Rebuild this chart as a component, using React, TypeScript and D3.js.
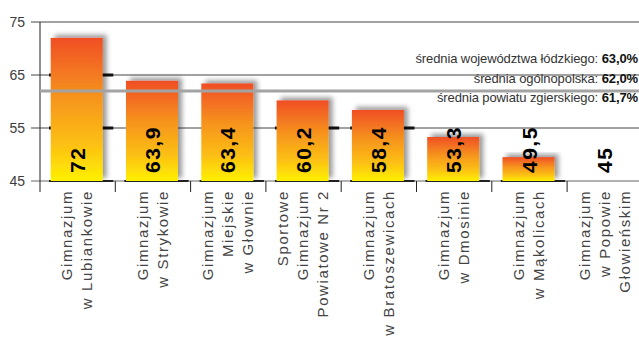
import React from "react";
import * as d3 from "d3";

const categories: string[][] = [
  ["Gimnazjum", "w Lubiankowie"],
  ["Gimnazjum", "w Strykowie"],
  ["Gimnazjum", "Miejskie", "w Głownie"],
  ["Sportowe", "Gimnazjum", "Powiatowe Nr 2"],
  ["Gimnazjum", "w Bratoszewicach"],
  ["Gimnazjum", "w Dmosinie"],
  ["Gimnazjum", "w Mąkolicach"],
  ["Gimnazjum", "w Popowie", "Głowieńskim"],
];
const values: number[] = [72, 63.9, 63.4, 60.2, 58.4, 53.3, 49.5, 45];
const valueLabels: string[] = ["72", "63,9", "63,4", "60,2", "58,4", "53,3", "49,5", "45"];
const yTicks: number[] = [45, 55, 65, 75];
const floorMarks: [number, number][] = [
  [0, 65], [0, 55], [3, 55], [4, 55],
];
const averages = [
  { label: "średnia województwa łódzkiego: ", value: "63,0%" },
  { label: "średnia ogólnopolska: ", value: "62,0%" },
  { label: "średnia powiatu zgierskiego: ", value: "61,7%" },
];
const avgLineValue = 62.0;

const W = 639;
const H = 341;
const FONT = "'Liberation Sans', Arial, Helvetica, sans-serif";

export default function App() {
  const y = d3.scaleLinear().domain([45, 75]).range([181, 22]);
  const x = d3
    .scaleBand<number>()
    .domain(d3.range(categories.length))
    .range([39.5, 39.5 + 75.3 * categories.length])
    .paddingInner(0)
    .paddingOuter(0);
  const bw = x.bandwidth();
  const barOff = 11.2;
  const barW = 52;

  return (
    <svg
      width={W}
      height={H}
      style={{ position: "absolute", left: 0, top: 0, background: "#fff" }}
      fontFamily={FONT}
    >
      <defs>
        <linearGradient id="barGrad" x1="0" y1="0" x2="0" y2="1">
          <stop offset="0%" stopColor="#f04e25" />
          <stop offset="40%" stopColor="#f6921e" />
          <stop offset="75%" stopColor="#fcc113" />
          <stop offset="100%" stopColor="#fff100" />
        </linearGradient>
        <filter id="shadow" x="-20%" y="-20%" width="150%" height="140%">
          <feGaussianBlur in="SourceAlpha" stdDeviation="2.4" result="b" />
          <feOffset in="b" dx="4" dy="-3" result="o" />
          <feComponentTransfer in="o" result="s">
            <feFuncA type="linear" slope="0.4" />
          </feComponentTransfer>
          <feMerge>
            <feMergeNode in="s" />
            <feMergeNode in="SourceGraphic" />
          </feMerge>
        </filter>
      </defs>

      {/* gridlines */}
      {yTicks.map((t) => (
        <g key={t}>
          <line
            x1={31}
            x2={W}
            y1={y(t)}
            y2={y(t)}
            stroke={t === 45 ? "#666" : "#444"}
            strokeWidth={1}
          />
          <text
            x={25}
            y={y(t)}
            dy="0.36em"
            textAnchor="end"
            fontSize={14}
            fill="#3c3c3c"
          >
            {t}
          </text>
        </g>
      ))}

      {/* floor segments */}
      {values.slice(0, 7).map((_, i) => (
        <line
          key={"f" + i}
          x1={(x(i) as number) + 9.5}
          x2={(x(i) as number) + bw - 1.5}
          y1={y(45)}
          y2={y(45)}
          stroke="#222"
          strokeWidth={2}
        />
      ))}
      {floorMarks.map(([i, lv], k) => (
        <line
          key={"fm" + k}
          x1={(x(i) as number) + 9.5}
          x2={(x(i) as number) + bw - 1.5}
          y1={y(lv)}
          y2={y(lv)}
          stroke="#111"
          strokeWidth={3}
        />
      ))}

      {/* bars */}
      {values.map((v, i) =>
        v > 45 ? (
          <rect
            key={"b" + i}
            x={(x(i) as number) + barOff}
            y={y(v)}
            width={barW}
            height={y(45) - y(v)}
            fill="url(#barGrad)"
            filter="url(#shadow)"
          />
        ) : null
      )}

      {/* axis */}
      <line x1={40} x2={40} y1={22} y2={192} stroke="#222" strokeWidth={1} />
      {categories.map((_, i) =>
        i === 0 ? null : (
          <line
            key={"d" + i}
            x1={(x(i) as number) + 0.5}
            x2={(x(i) as number) + 0.5}
            y1={181}
            y2={192}
            stroke="#222"
            strokeWidth={1}
          />
        )
      )}

      {/* average line */}
      <line
        x1={40}
        x2={W}
        y1={y(avgLineValue)}
        y2={y(avgLineValue)}
        stroke="#a3a3a3"
        strokeWidth={3}
      />

      {/* average labels */}
      {averages.map((a, k) => (
        <text
          key={"a" + k}
          x={638}
          y={[62.5, 82.5, 102][k]}
          textAnchor="end"
          fontSize={13}
          letterSpacing={-0.1}
          fill="#333"
        >
          {a.label}
          <tspan fontWeight="bold" fill="#111">
            {a.value}
          </tspan>
        </text>
      ))}

      {/* value labels */}
      {valueLabels.map((lab, i) => {
        const cx = (x(i) as number) + bw / 2;
        return (
          <text
            key={"v" + i}
            transform={`translate(${cx},173) rotate(-90)`}
            dy="0.36em"
            textAnchor="start"
            fontSize={21}
            fontWeight="bold"
            letterSpacing={1.5}
            fill="#000"
          >
            {lab}
          </text>
        );
      })}

      {/* category labels */}
      {categories.map((lines, i) => {
        const cx = (x(i) as number) + bw / 2;
        const n = lines.length;
        return (
          <g key={"c" + i}>
            {lines.map((ln, j) => (
              <text
                key={j}
                transform={`translate(${cx + (j - (n - 1) / 2) * 20},190) rotate(-90)`}
                dy="0.35em"
                textAnchor="end"
                fontSize={15}
                letterSpacing={1.6}
                fill="#444"
              >
                {ln}
              </text>
            ))}
          </g>
        );
      })}
    </svg>
  );
}
